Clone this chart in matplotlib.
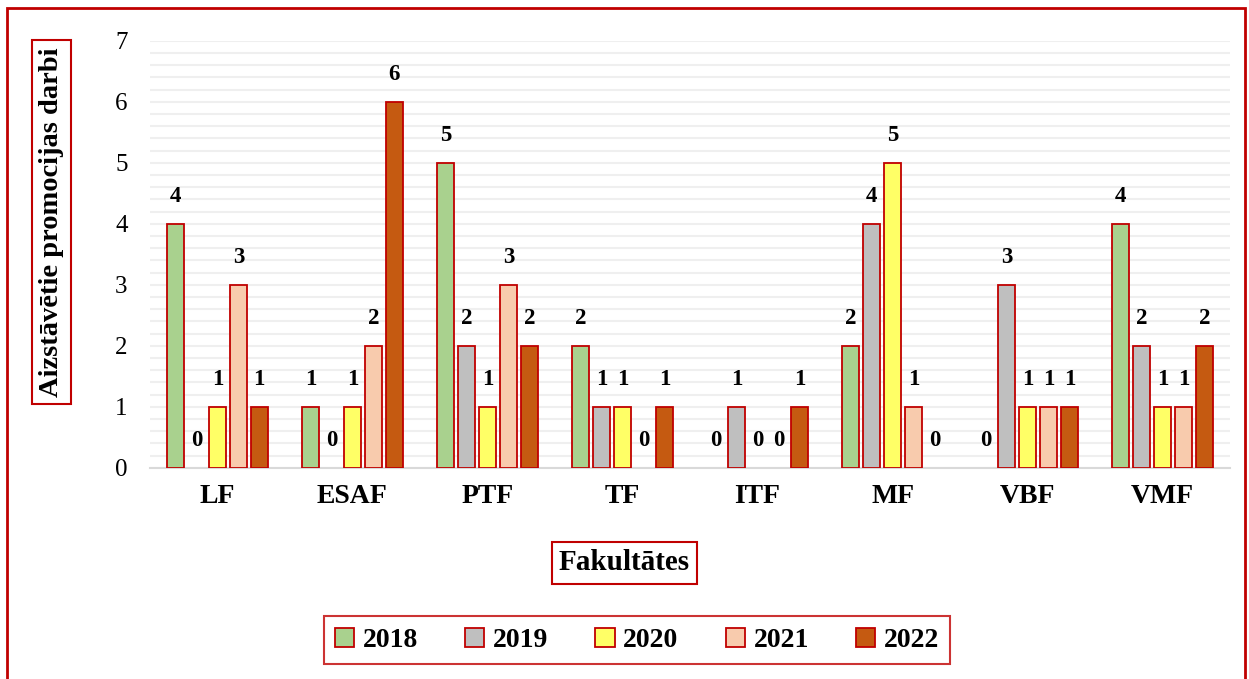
import matplotlib.pyplot as plt
import numpy as np
from matplotlib.patches import Rectangle, Patch

plt.rcParams['font.family'] = ['Liberation Serif', 'DejaVu Serif']

fakultates = ['LF', 'ESAF', 'PTF', 'TF', 'ITF', 'MF', 'VBF', 'VMF']
gadi = ['2018', '2019', '2020', '2021', '2022']
v2018 = [4, 1, 5, 2, 0, 2, 0, 4]
v2019 = [0, 0, 2, 1, 1, 4, 3, 2]
v2020 = [1, 1, 1, 1, 0, 5, 1, 1]
v2021 = [3, 2, 3, 0, 0, 1, 1, 1]
v2022 = [1, 6, 2, 1, 1, 0, 1, 2]
krasas = ['#A9D18E', '#BFBFBF', '#FFFF66', '#F8CBAD', '#C55A11']
sarkans = '#C00000'

fig = plt.figure(figsize=(12.49, 6.79), dpi=100)
ax = fig.add_axes([0.12, 0.311, 0.865, 0.629])

x = np.arange(len(fakultates))
sl = 0.155
w = 0.125
for i, vals in enumerate([v2018, v2019, v2020, v2021, v2022]):
    pos = x + (i - 2) * sl
    bars = ax.bar(pos, vals, w, color=krasas[i], edgecolor=sarkans, linewidth=1.3, zorder=3)
    for b, p, v in zip(bars, pos, vals):
        if v == 0:
            b.set_linewidth(0)  # nulles stabiņiem nav apmales
        ax.text(p, v + 0.27, str(v), ha='center', va='bottom', fontsize=16.5,
                fontweight='bold', zorder=4)

ax.set_xlim(-0.5, 7.5)
ax.set_ylim(0, 7)
ax.set_yticks(range(8))
ax.set_yticks(np.arange(0, 7.01, 0.2), minor=True)
ax.yaxis.grid(True, which='both', color='#EFEFEF', linewidth=1.5, zorder=0)
ax.tick_params(axis='y', which='both', length=0, labelsize=18, pad=16)
ax.tick_params(axis='x', length=0, labelsize=20, pad=12)
ax.set_xticks(x)
ax.set_xticklabels(fakultates, fontweight='bold')
for s in ['top', 'right', 'left']:
    ax.spines[s].set_visible(False)
ax.spines['bottom'].set_color('#D9D9D9')
ax.spines['bottom'].set_linewidth(1.5)

fig.text(0.041, 0.673, 'Aizstāvētie promocijas darbi', rotation=90, ha='center', va='center',
         fontsize=20.5, fontweight='bold',
         bbox=dict(boxstyle='square,pad=0.25', fc='white', ec=sarkans, lw=1.5))
fig.text(0.5, 0.171, 'Fakultātes', ha='center', va='center', fontsize=21, fontweight='bold',
         bbox=dict(boxstyle='square,pad=0.25', fc='white', ec=sarkans, lw=1.5))

handles = [Patch(facecolor=c, edgecolor=sarkans, linewidth=1.3) for c in krasas]
leg = fig.legend(handles, gadi, loc='center', bbox_to_anchor=(0.51, 0.057), ncol=5,
                 prop={'weight': 'bold', 'size': 20}, frameon=True, fancybox=False,
                 handlelength=0.7, handleheight=0.7, handletextpad=0.3, columnspacing=1.7,
                 borderpad=0.4, borderaxespad=0)
leg.get_frame().set_edgecolor(sarkans)
leg.get_frame().set_linewidth(1.5)

fig.patches.append(Rectangle((7 / 1249, -0.05), 1238 / 1249, 1.0 - 8 / 679 + 0.05,
                             transform=fig.transFigure, fill=False, ec=sarkans, lw=2))

fig.savefig('out.png', dpi=100)
